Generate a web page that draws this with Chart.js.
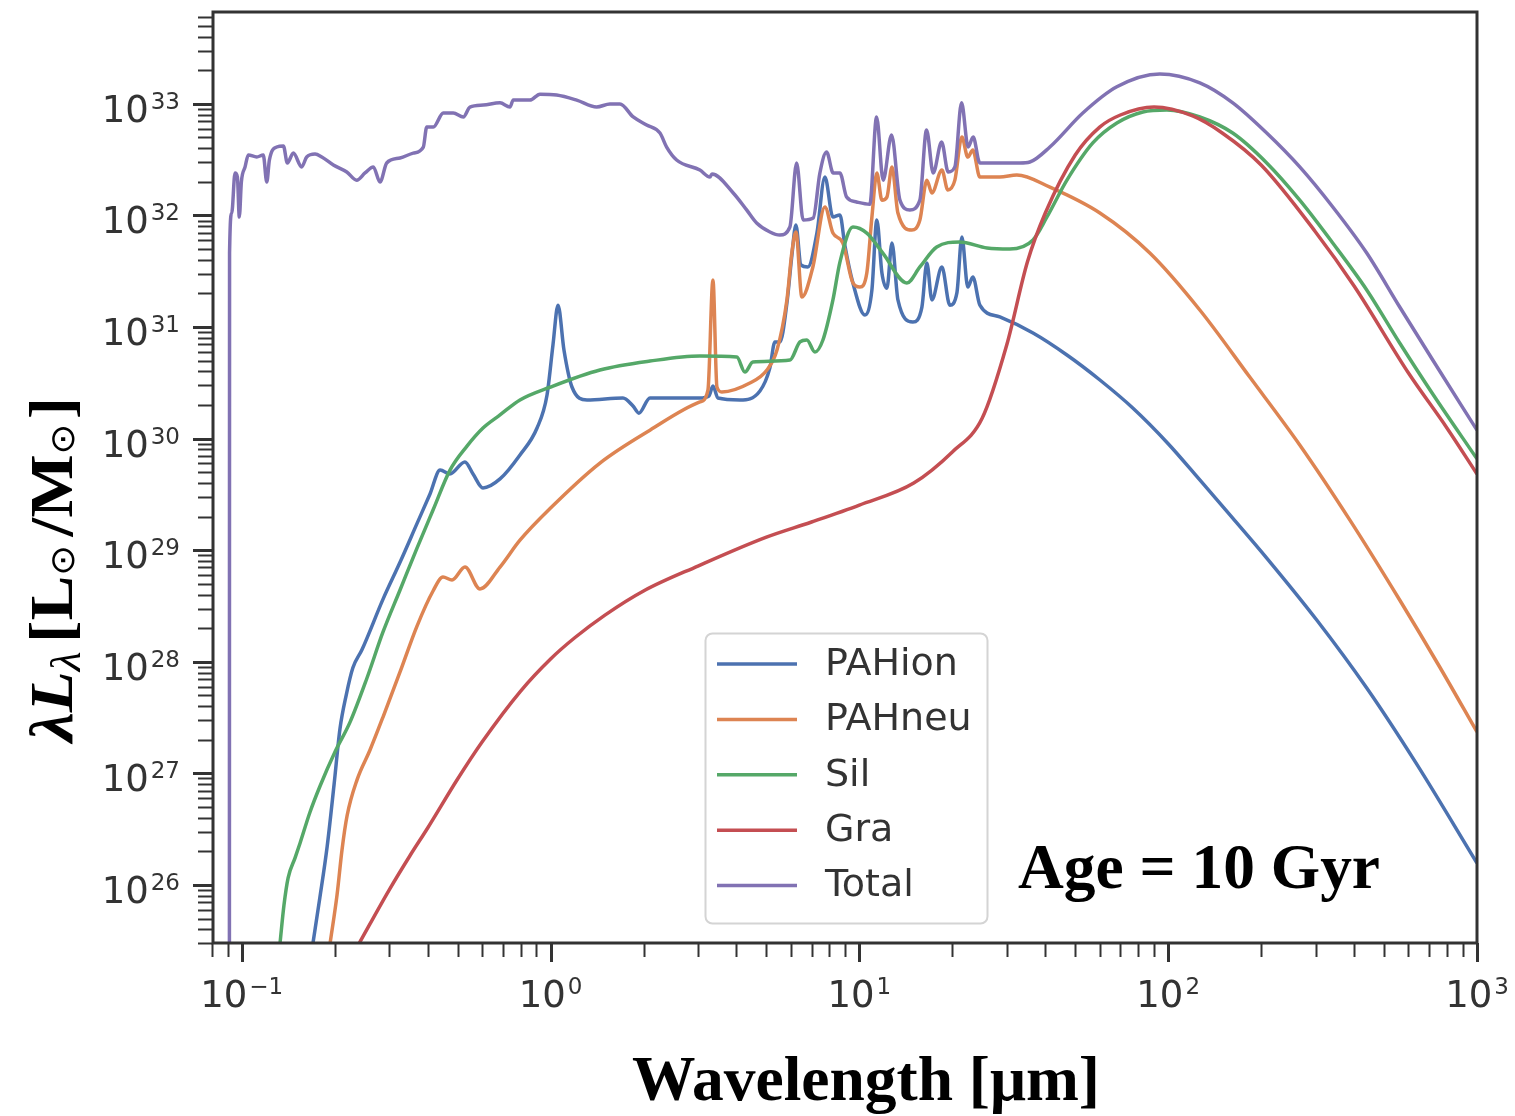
<!DOCTYPE html>
<html>
<head>
<meta charset="utf-8">
<title>Dust SED - Age = 10 Gyr</title>
<script src="https://cdn.jsdelivr.net/npm/chart.js@4.4.1/dist/chart.umd.min.js"></script>
<style>
  html, body { margin: 0; padding: 0; background: #fff; }
  #sed { display: block; }
</style>
</head>
<body>
<canvas id="sed" width="1515" height="1116"></canvas>
<script>
// wavelength [micron] and lambda*L_lambda [Lsun/Msun]

const wlIon = [0.170, 0.179, 0.189, 0.199, 0.208, 0.218, 0.229, 0.245, 0.287, 0.326, 0.369, 0.407, 0.439, 0.472, 0.528, 0.561, 0.604, 0.686, 0.796, 0.904,
    0.974, 1.018, 1.057, 1.105, 1.173, 1.312, 1.716, 1.849, 1.932, 2.098, 3.045, 3.257, 3.356, 3.483, 4.104, 4.764, 5.131, 5.326, 5.528, 5.826,
    6.047, 6.229, 6.465, 6.812, 7.286, 7.733, 8.21, 8.65, 8.97, 9.53, 10.42, 10.98, 11.39, 11.83, 12.28, 12.75, 13.33, 14.9, 15.94, 16.54,
    17.17, 18.5, 19.63, 20.69, 21.47, 22.45, 23.3, 24.56, 28.5, 36.5, 47.0, 60.1, 76.8, 100, 126.6, 161.8, 208.5, 302.7, 439.5, 638, 1000]
const lumIon = [3.0e25, 7.67e25, 2.20e26, 7.91e26, 2.51e27, 5.06e27, 8.83e27, 1.28e28, 3.66e28, 7.87e28, 1.72e29, 3.19e29, 5.24e29, 4.82e29, 6.17e29, 4.82e29, 3.61e29, 4.35e29, 7.13e29, 1.245e30,
    2.46e30, 6.90e30, 1.57e31, 6.22e30, 2.90e30, 2.22e30, 2.31e30, 1.96e30, 1.69e30, 2.31e30, 2.31e30, 2.41e30, 2.96e30, 2.31e30, 2.22e30, 2.67e30, 4.30e30, 7.35e30, 7.35e30, 1.64e31,
    4.42e31, 8.20e31, 3.60e31, 3.45e31, 6.95e31, 2.21e32, 9.68e31, 1.01e32, 5.43e31, 2.48e31, 1.28e31, 2.15e31, 9.10e31, 3.05e31, 2.23e31, 5.65e31, 1.75e31, 1.11e31, 1.51e31, 3.74e31,
    1.75e31, 3.45e31, 1.57e31, 2.02e31, 6.40e31, 2.28e31, 2.81e31, 1.57e31, 1.23e31, 8.83e30, 5.61e30, 3.35e30, 1.88e30, 9.0e29, 4.26e29, 1.94e29, 8.51e28, 2.37e28, 5.82e27, 1.21e27, 1.57e26]

const wlNeu = [0.1932, 0.2035, 0.2112, 0.2193, 0.2362, 0.2602, 0.2867, 0.3255, 0.3694, 0.4163, 0.4484, 0.4796, 0.5283, 0.5907, 0.6859, 0.796, 1.0, 1.445, 2.098, 3.045,
    3.233, 3.356, 3.457, 3.588, 4.42, 5.02, 5.41, 5.826, 6.047, 6.229, 6.515, 7.07, 7.733, 8.21, 8.84, 9.53, 10.04, 10.57, 10.98, 11.39,
    11.83, 12.28, 12.75, 13.33, 14.79, 15.7, 16.54, 17.17, 18.5, 19.34, 20.38, 21.47, 22.45, 23.3, 24.56, 28.5, 32.35, 41.4, 60.1, 87.2,
    126.6, 183.7, 266.7, 387.2, 561.9, 757.3, 1000]
const lumNeu = [3.0e25, 8.15e25, 2.07e26, 4.17e26, 8.75e26, 1.62e27, 3.20e27, 8.11e27, 2.09e28, 4.31e28, 5.75e28, 5.41e28, 7.06e28, 4.49e28, 7.06e28, 1.23e29, 2.39e29, 6.04e29, 1.19e30, 2.13e30,
    2.72e30, 2.64e31, 2.90e30, 2.62e30, 3.15e30, 4.12e30, 6.22e30, 1.75e31, 4.70e31, 7.10e31, 1.86e31, 3.45e31, 1.19e32, 6.95e31, 5.66e31, 2.48e31, 2.28e31, 3.05e31, 9.68e31, 2.40e32,
    1.37e32, 1.46e32, 2.72e32, 1.05e32, 7.39e31, 9.10e31, 2.07e32, 1.59e32, 2.55e32, 1.69e32, 2.07e32, 5.04e32, 3.33e32, 3.85e32, 2.21e32, 2.21e32, 2.30e32, 1.79e32, 1.05e32, 4.60e31,
    1.42e31, 3.56e30, 8.77e29, 1.87e29, 3.58e28, 8.98e27, 2.35e27]

const wlSil = [0.133, 0.137, 0.1413, 0.1488, 0.1545, 0.1664, 0.1793, 0.2005, 0.2242, 0.2544, 0.2867, 0.3255, 0.3694, 0.4163, 0.4724, 0.5362, 0.6042, 0.6859, 0.796, 1.0,
    1.445, 2.098, 3.045, 4.01, 4.26, 4.52, 5.96, 6.42, 6.76, 7.18, 7.62, 8.21, 8.65, 9.53, 10.57, 11.91, 14.25, 15.7, 17.8, 21.1,
    25.9, 30.7, 36.5, 40.5, 47.0, 57.0, 68.2, 82.8, 99.0, 126.6, 161.8, 208.5, 266.7, 341.1, 439.5, 561.9, 718.9, 1000]
const lumSil = [3.0e25, 6.62e25, 1.16e26, 1.75e26, 2.38e26, 4.51e26, 7.71e26, 1.56e27, 2.88e27, 7.16e27, 1.85e28, 4.40e28, 1.045e29, 2.29e29, 5.22e29, 8.57e29, 1.245e30, 1.63e30, 2.22e30, 2.90e30,
    4.12e30, 4.95e30, 5.50e30, 5.38e30, 3.95e30, 4.85e30, 5.06e30, 7.35e30, 7.65e30, 5.97e30, 7.65e30, 1.75e31, 3.82e31, 7.87e31, 6.95e31, 4.60e31, 2.48e31, 3.45e31, 5.21e31, 5.78e31,
    5.11e31, 5.00e31, 6.03e31, 9.68e31, 2.07e32, 4.46e32, 6.73e32, 8.45e32, 8.80e32, 7.62e32, 5.47e32, 2.95e32, 1.37e32, 5.66e31, 2.15e31, 7.19e30, 2.51e30, 6.58e29]

const wlGra = [0.24, 0.3, 0.35, 0.4, 0.5, 0.6, 0.8, 1.0, 1.2, 1.5, 2, 3, 5, 7, 10, 15, 20, 25, 30, 35,
    40, 50, 60, 70, 90, 120, 150, 200, 300, 400, 600, 800, 1000]
const lumGra = [3.0e25, 9.0e25, 1.82e26, 3.24e26, 8.9e26, 1.91e27, 5.47e27, 1.06e28, 1.65e28, 2.62e28, 4.31e28, 7.21e28, 1.31e29, 1.79e29, 2.54e29, 4.0e29, 7.59e29, 1.53e30, 6.9e30, 3.82e31,
    1.05e32, 3.48e32, 6.19e32, 7.94e32, 9.36e32, 7.78e32, 5.45e32, 2.83e32, 7.11e31, 2.33e31, 3.87e30, 1.24e30, 4.82e29]

const wlTot = [0.0912, 0.0913, 0.0928, 0.0951, 0.0968, 0.0982, 0.0997, 0.1025, 0.1050, 0.1118, 0.1174, 0.1205, 0.1229, 0.1298, 0.1364, 0.1405, 0.1469, 0.1563, 0.1623, 0.1727,
    0.1816, 0.1980, 0.2188, 0.2356, 0.2507, 0.2667, 0.2804, 0.2947, 0.3255, 0.3593, 0.3872, 0.3972, 0.4172, 0.4494, 0.4842, 0.5218, 0.5482, 0.6057, 0.6859, 0.7388,
    0.7571, 0.8575, 0.924, 1.046, 1.215, 1.41, 1.557, 1.678, 1.852, 2.047, 2.261, 2.376, 2.56, 3.045, 3.281, 3.331, 3.904, 4.314, 4.648, 5.133,
    5.528, 5.957, 6.262, 6.577, 7.087, 7.449, 7.83, 8.228, 8.648, 9.091, 9.793, 10.81, 11.37, 11.94, 12.71, 13.53, 14.57, 15.70, 16.50, 17.34,
    18.46, 19.39, 20.38, 21.42, 22.50, 23.36, 24.55, 33.08, 35.65, 41.38, 52.91, 68.19, 93.94, 126.6, 161.9, 208.5, 266.7, 341.2, 439.5, 562,
    718.9, 1000]
const lumTot = [1e25, 4.6e31, 1.05e32, 2.40e32, 2.21e32, 9.68e31, 1.99e32, 2.72e32, 3.48e32, 3.34e32, 3.48e32, 1.99e32, 3.14e32, 4.10e32, 4.19e32, 2.95e32, 3.62e32, 2.72e32, 3.34e32, 3.55e32,
    3.34e32, 2.83e32, 2.45e32, 2.07e32, 2.40e32, 2.72e32, 1.99e32, 2.95e32, 3.27e32, 3.62e32, 4.10e32, 6.19e32, 6.19e32, 8.27e32, 8.27e32, 7.62e32, 9.36e32, 9.75e32, 1.02e33, 9.36e32,
    1.08e33, 1.08e33, 1.22e33, 1.20e33, 1.08e33, 9.36e32, 9.96e32, 9.96e32, 7.62e32, 6.46e32, 5.47e32, 4.10e32, 3.14e32, 2.55e32, 2.21e32, 2.35e32, 1.59e32, 1.12e32, 8.55e31, 7.10e31,
    6.67e31, 7.87e31, 2.95e32, 9.10e31, 9.48e31, 2.40e32, 3.70e32, 2.40e32, 2.40e32, 1.46e32, 1.32e32, 1.26e32, 7.62e32, 2.07e32, 5.25e32, 1.37e32, 1.12e32, 1.37e32, 5.82e32, 2.40e32,
    4.55e32, 2.45e32, 2.72e32, 1.02e33, 4.10e32, 5.04e32, 2.95e32, 2.95e32, 3.01e32, 4.10e32, 8.27e32, 1.42e33, 1.85e33, 1.54e33, 1.02e33, 5.47e32, 2.72e32, 1.19e32, 4.60e31, 1.51e31,
    5.06e30, 1.19e30]

const seriesLabels = ['PAHion', 'PAHneu', 'Sil', 'Gra', 'Total']
const seriesWl = [wlIon, wlNeu, wlSil, wlGra, wlTot]
const seriesLum = [lumIon, lumNeu, lumSil, lumGra, lumTot]
const seriesColors = ['#4C72B0', '#DD8452', '#55A868', '#C44E52', '#8172B3']

// decade exponents that get a label
const xTickExp = [-1, 0, 1, 2, 3]
const yTickExp = [26, 27, 28, 29, 30, 31, 32, 33]

const xMin = 0.0807, xMax = 1000
const yMin = 3.02e25, yMax = 6.65e33

const datasets = seriesLabels.map((label, i) => ({
    label: label,
    data: seriesWl[i].map((w, k) => ({ x: w, y: seriesLum[i][k] })),
    borderColor: seriesColors[i],
    backgroundColor: seriesColors[i],
    borderWidth: 3.5,
    pointRadius: 0,
    fill: false,
    cubicInterpolationMode: 'monotone',
    clip: 0,
    order: seriesLabels.length - 1 - i // Total on top, like matplotlib
}));

const ink = '#333333';

function minorTicks(min, max) {
    const out = [];
    for (let e = Math.floor(Math.log10(min)) - 1; e <= Math.ceil(Math.log10(max)); e++) {
        for (let m = 1; m <= 9; m++) {
            const v = m * Math.pow(10, e);
            if (v >= min * 0.985 && v <= max * 1.001) out.push({ v: v, major: m === 1 });
        }
    }
    return out;
}

function drawPow(ctx, exp, x, baseY, align) {
    const baseFont = '37px "DejaVu Sans"';
    const expFont = '23px "DejaVu Sans"';
    const expTxt = exp < 0 ? '\u2212' + Math.abs(exp) : String(exp);
    ctx.font = baseFont;
    const wb = ctx.measureText('10').width;
    ctx.font = expFont;
    const we = ctx.measureText(expTxt).width;
    const w = wb + 2 + we;
    const x0 = align === 'right' ? x - w : x - w / 2;
    ctx.textAlign = 'left';
    ctx.textBaseline = 'alphabetic';
    ctx.font = baseFont;
    ctx.fillText('10', x0, baseY);
    ctx.font = expFont;
    ctx.fillText(expTxt, x0 + wb + 2, baseY - 13);
}

// draws text squeezed/stretched horizontally to a given width
function fitText(ctx, txt, font, x, y, width, align) {
    ctx.font = font;
    const w = ctx.measureText(txt).width;
    const s = width / w;
    ctx.save();
    ctx.translate(align === 'center' ? x - width / 2 : x, y);
    ctx.scale(s, 1);
    ctx.textAlign = 'left';
    ctx.textBaseline = 'alphabetic';
    ctx.fillText(txt, 0, 0);
    ctx.restore();
}

const axesDecor = {
    id: 'axesDecor',
    afterDatasetsDraw(chart) {
        const ctx = chart.ctx;
        const a = chart.chartArea;
        const xs = chart.scales.x, ys = chart.scales.y;
        ctx.save();

        // ticks, outward
        ctx.strokeStyle = ink;
        ctx.lineCap = 'butt';
        minorTicks(xMin, xMax).forEach(t => {
            const px = Math.round(xs.getPixelForValue(t.v)) + 0.5;
            ctx.lineWidth = t.major ? 3 : 2;
            ctx.beginPath();
            ctx.moveTo(px, a.bottom);
            ctx.lineTo(px, a.bottom + (t.major ? 19 : 14));
            ctx.stroke();
        });
        minorTicks(yMin, yMax).forEach(t => {
            const py = Math.round(ys.getPixelForValue(t.v)) + 0.5;
            ctx.lineWidth = t.major ? 3 : 2;
            ctx.beginPath();
            ctx.moveTo(a.left, py);
            ctx.lineTo(a.left - (t.major ? 20 : 15), py);
            ctx.stroke();
        });

        // spines
        ctx.lineWidth = 3;
        ctx.strokeRect(a.left, a.top, a.right - a.left, a.bottom - a.top);

        // tick labels
        ctx.fillStyle = ink;
        xTickExp.forEach(e => drawPow(ctx, e, xs.getPixelForValue(Math.pow(10, e)), 1007, 'center'));
        yTickExp.forEach(e => drawPow(ctx, e, 180, ys.getPixelForValue(Math.pow(10, e)) + 18, 'right'));

        // legend
        const lx = 705, ly = 633, lw = 282, lh = 290;
        ctx.beginPath();
        ctx.roundRect(lx + 0.5, ly + 0.5, lw, lh, 7);
        ctx.fillStyle = 'rgba(255,255,255,0.8)';
        ctx.fill();
        ctx.strokeStyle = '#d4d4d4';
        ctx.lineWidth = 2;
        ctx.stroke();
        chart.data.datasets.forEach((ds, i) => {
            const y = 664 + i * 55.4;
            ctx.strokeStyle = ds.borderColor;
            ctx.lineWidth = 3.5;
            ctx.beginPath();
            ctx.moveTo(717, y);
            ctx.lineTo(797, y);
            ctx.stroke();
            ctx.fillStyle = ink;
            ctx.font = '38px "DejaVu Sans"';
            ctx.textAlign = 'left';
            ctx.textBaseline = 'middle';
            ctx.fillText(ds.label, 825, y + 1);
        });

        // axis titles and annotation
        ctx.fillStyle = '#000';
        fitText(ctx, 'Wavelength [\u03bcm]', 'bold 63px "Liberation Serif"', 866, 1100, 468, 'center');
        fitText(ctx, 'Age = 10 Gyr', 'bold 63px "Liberation Serif"', 1018, 888, 362, 'left');

        const serif = '"Liberation Serif"';
        const parts = [
            { t: '\u03bb', f: 'bold italic 62px ' + serif, dv: 0, gap: 0 },
            { t: 'L', f: 'bold italic 62px ' + serif, dv: 0, gap: 0 },
            { t: '\u03bb', f: 'italic 42px ' + serif, dv: 8, gap: 0 },
            { t: '[', f: 'bold 62px ' + serif, dv: 0, gap: 8 },
            { t: 'L', f: 'bold 62px ' + serif, dv: 0, gap: 0 },
            { t: '\u2299', f: '34px "DejaVu Sans"', dv: 2, gap: 0 },
            { t: '/', f: 'bold 62px ' + serif, dv: 0, gap: 8 },
            { t: 'M', f: 'bold 62px ' + serif, dv: 0, gap: 0 },
            { t: '\u2299', f: '34px "DejaVu Sans"', dv: 2, gap: 0 },
            { t: ']', f: 'bold 62px ' + serif, dv: 0, gap: 4 }
        ];
        let total = 0;
        parts.forEach(p => { ctx.font = p.f; p.w = ctx.measureText(p.t).width; total += p.gap + p.w; });
        const len = 345;
        ctx.save();
        ctx.translate(72, 569.5 + len / 2);
        ctx.rotate(-Math.PI / 2);
        ctx.scale(len / total, 1);
        ctx.textAlign = 'left';
        ctx.textBaseline = 'alphabetic';
        let u = 0;
        parts.forEach(p => {
            u += p.gap;
            ctx.font = p.f;
            ctx.fillText(p.t, u, p.dv);
            u += p.w;
        });
        ctx.restore();

        ctx.restore();
    }
};

const sedCtx = document.getElementById('sed').getContext('2d');
const sedChart = new Chart(sedCtx, {
    type: 'line',
    data: { datasets: datasets },
    options: {
        responsive: false,
        animation: false,
        devicePixelRatio: 1,
        events: [],
        layout: { padding: { left: 213, right: 38, top: 12, bottom: 173 } },
        scales: {
            x: { type: 'logarithmic', min: xMin, max: xMax, display: false },
            y: { type: 'logarithmic', min: yMin, max: yMax, display: false }
        },
        plugins: {
            legend: { display: false },
            tooltip: { enabled: false }
        }
    },
    plugins: [axesDecor]
});
</script>
</body>
</html>
